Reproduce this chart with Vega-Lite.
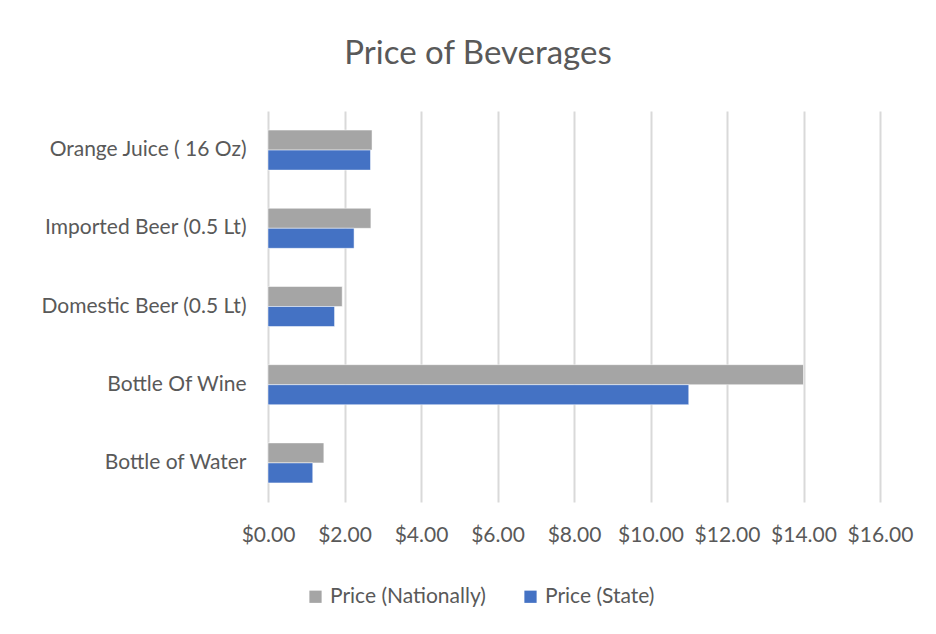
{
  "$schema": "https://vega.github.io/schema/vega-lite/v6.json",
  "autosize": "none",
  "width": 612,
  "height": 391,
  "padding": {"left": 268, "top": 111, "right": 56, "bottom": 132},
  "background": "white",
  "title": {
    "text": "Price of Beverages",
    "font": "Lato",
    "fontSize": 33,
    "fontWeight": "normal",
    "color": "#595959",
    "anchor": "middle",
    "dx": -96,
    "offset": 40
  },
  "config": {
    "view": {"stroke": null},
    "font": "Lato"
  },
  "data": {
    "values": [
      {"item": "Orange Juice ( 16 Oz)", "series": "Price (Nationally)", "price": 2.72},
      {"item": "Orange Juice ( 16 Oz)", "series": "Price (State)", "price": 2.68},
      {"item": "Imported Beer (0.5 Lt)", "series": "Price (Nationally)", "price": 2.69},
      {"item": "Imported Beer (0.5 Lt)", "series": "Price (State)", "price": 2.25},
      {"item": "Domestic Beer (0.5 Lt)", "series": "Price (Nationally)", "price": 1.94},
      {"item": "Domestic Beer (0.5 Lt)", "series": "Price (State)", "price": 1.74},
      {"item": "Bottle Of Wine", "series": "Price (Nationally)", "price": 14.0},
      {"item": "Bottle Of Wine", "series": "Price (State)", "price": 11.0},
      {"item": "Bottle of Water", "series": "Price (Nationally)", "price": 1.46},
      {"item": "Bottle of Water", "series": "Price (State)", "price": 1.17}
    ]
  },
  "mark": {"type": "bar", "stroke": "white", "strokeWidth": 0.5},
  "encoding": {
    "y": {
      "field": "item",
      "type": "nominal",
      "sort": null,
      "scale": {"paddingInner": 0.488, "paddingOuter": 0.244},
      "axis": {
        "title": null,
        "ticks": false,
        "domain": false,
        "labelFont": "Lato",
        "labelFontSize": 21,
        "labelColor": "#595959",
        "labelPadding": 22,
        "labelLimit": 300
      }
    },
    "yOffset": {"field": "series", "type": "nominal", "sort": ["Price (Nationally)", "Price (State)"]},
    "x": {
      "field": "price",
      "type": "quantitative",
      "scale": {"domain": [0, 16], "nice": false},
      "axis": {
        "title": null,
        "format": "$.2f",
        "values": [0, 2, 4, 6, 8, 10, 12, 14, 16],
        "labelOverlap": false,
        "labelFlush": false,
        "labelBound": false,
        "ticks": false,
        "domain": false,
        "grid": true,
        "gridColor": "#d9d9d9",
        "gridWidth": 2,
        "labelFont": "Lato",
        "labelFontSize": 21,
        "labelColor": "#595959",
        "labelPadding": 22
      }
    },
    "color": {
      "field": "series",
      "type": "nominal",
      "scale": {"domain": ["Price (Nationally)", "Price (State)"], "range": ["#a5a5a5", "#4472c4"]},
      "legend": {
        "title": null,
        "orient": "none",
        "direction": "horizontal",
        "legendX": 37,
        "legendY": 475,
        "symbolType": "square",
        "symbolSize": 150,
        "symbolStrokeWidth": 0,
        "labelFont": "Lato",
        "labelFontSize": 21,
        "labelColor": "#595959",
        "labelOffset": 4,
        "columnPadding": 34,
        "labelLimit": 300
      }
    }
  }
}
